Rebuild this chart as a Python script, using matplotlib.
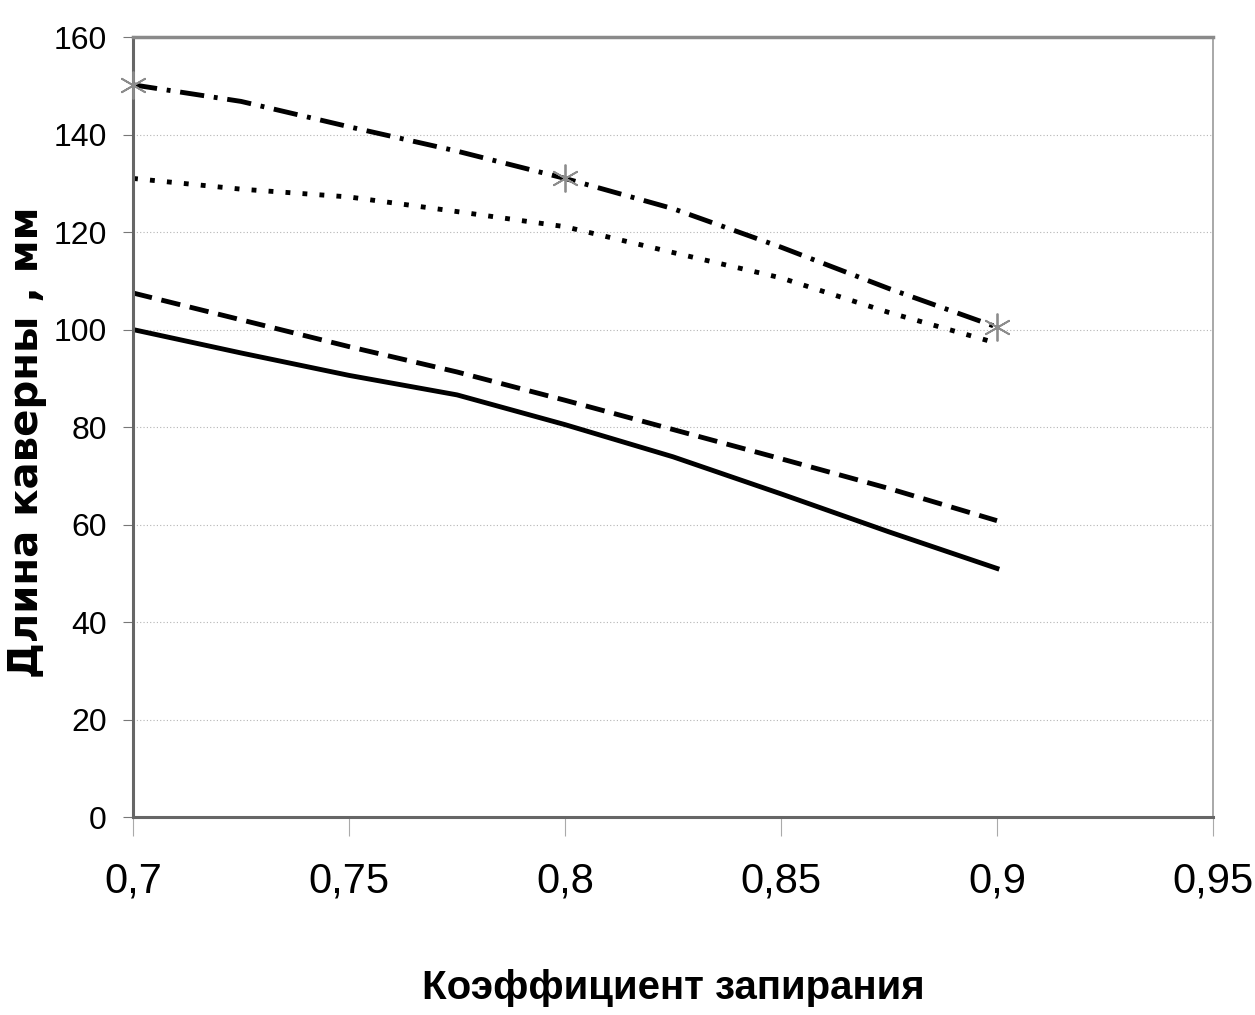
import numpy as np
import matplotlib.pyplot as plt

# values every 0.025
x = [0.7, 0.725, 0.75, 0.775, 0.8, 0.825, 0.85, 0.875, 0.9]
solid = [100, 95.2, 90.6, 86.6, 80.5, 73.9, 66.3, 58.5, 51]
dashed = [107.5, 102, 96.5, 91.3, 85.5, 79.5, 73.5, 67.4, 60.8]
dotted = [131, 128.8, 127.2, 124.2, 121.1, 115.8, 110.6, 103.5, 97.2]
dashdot = [150.2, 146.8, 141.6, 136.6, 131, 124.8, 116.9, 108.4, 100.5]

xticks = [0.7, 0.75, 0.8, 0.85, 0.9, 0.95]
xticklabels = ['0,7', '0,75', '0,8', '0,85', '0,9', '0,95']
yticks = [0, 20, 40, 60, 80, 100, 120, 140, 160]

narrow = ['Liberation Sans', 'DejaVu Sans']

fig = plt.figure(figsize=(12.55, 10.15), dpi=100)
ax = fig.add_axes([0.106, 0.195, 0.8605, 0.7685])

lw = 3.5
ax.plot(x, solid, color='black', lw=lw, solid_joinstyle='round')
ax.plot(x, dashed, color='black', lw=lw, linestyle=(0, (4, 2)))
ax.plot(x, dotted, color='black', lw=lw, linestyle=(0, (1, 2.5)))
ax.plot(x, dashdot, color='black', lw=lw, linestyle=(0, (5, 2, 0.8, 2)),
        marker=(6, 2, 0), markevery=[0, 4, 8], markersize=20,
        markeredgecolor='#8c8c8c', markeredgewidth=1.3, zorder=4,
        clip_on=False)

ax.set_xlim(0.7, 0.95)
ax.set_ylim(0, 160)
ax.set_xticks(xticks)
ax.set_xticklabels(xticklabels, family=narrow, fontsize=30)
ax.set_yticks(yticks)
ax.set_yticklabels([str(v) for v in yticks], family=narrow, fontsize=23)

ax.tick_params(axis='x', direction='out', length=14, width=0.8,
               color='#aaaaaa', pad=18)
ax.tick_params(axis='y', direction='out', length=7, width=0.8,
               color='#777777', pad=12)

ax.yaxis.grid(True, color='#b5b5b5', linestyle=(0, (1, 2)), lw=0.8)
ax.set_axisbelow(True)

for side in ['left', 'bottom']:
    ax.spines[side].set_color('#666666')
    ax.spines[side].set_linewidth(2.2)
ax.spines['top'].set_color('#8a8a8a')
ax.spines['top'].set_linewidth(2.5)
ax.spines['right'].set_color('#999999')
ax.spines['right'].set_linewidth(1.2)

ax.set_xlabel('Коэффициент запирания', family=narrow, fontsize=29,
              fontweight='bold')
ax.xaxis.set_label_coords(0.5, -0.195)
ax.set_ylabel('Длина каверны , мм', fontsize=29, fontweight='bold')
ax.yaxis.set_label_coords(-0.08, 0.48)

fig.savefig('out.png', dpi=100)
